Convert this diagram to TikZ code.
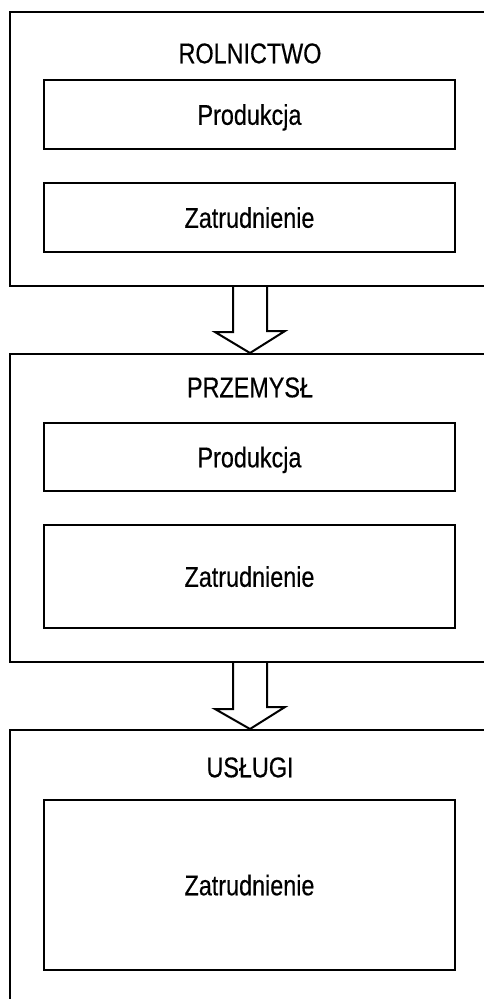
\documentclass[tikz,border=0pt]{standalone}
\usepackage{fontspec}
\setmainfont{Liberation Sans}[FakeStretch=0.82, FakeBold=0.4]
\usetikzlibrary{positioning}
\tikzset{
	sector/.style={draw, line width=2pt, minimum width=480pt, inner sep=0pt},
	item/.style={draw, line width=2pt, minimum width=411pt, inner sep=0pt, text height=20.5pt, text depth=0pt},
	heading/.style={inner sep=0pt, text height=20.5pt, text depth=0pt},
	flow/.style={draw, line width=2pt, fill=white, line join=miter}
}
\begin{document}
\begin{tikzpicture}[x=1pt, y=-1pt, font=\fontsize{28.5}{30}\selectfont]
		\useasboundingbox (0,0) rectangle (484,999);
		
		% sektor I
		\node[sector, minimum height=274pt] (rolnictwo) at (250,149) {};
		\node[heading] (rolnictwoT) at (250,53) {ROLNICTWO};
		\node[item, minimum height=69pt] (rolProd) at (249.5,114.5) {Produkcja};
		\node[item, minimum height=69pt] (rolZatr) at (249.5,217.5) {Zatrudnienie};
		
		% sektor II
		\node[sector, minimum height=308pt] (przemysl) at (250,508) {};
		\node[heading] (przemyslT) at (250,387) {PRZEMYSŁ};
		\node[item, minimum height=68pt] (przProd) at (249.5,457) {Produkcja};
		\node[item, minimum height=103pt] (przZatr) at (249.5,576.5) {Zatrudnienie};
		
		% sektor III
		\node[sector, minimum height=280pt] (uslugi) at (250,870) {};
		\node[heading] (uslugiT) at (250,767) {USŁUGI};
		\node[item, minimum height=170pt] (uslZatr) at (249.5,885) {Zatrudnienie};
		
		% strzalki
		\draw[flow] ([xshift=-17pt]rolnictwo.south) -- ++(0,45) -- ++(-18,0) -- (przemysl.north) -- ++(35,-22) -- ++(-18,0) -- ([xshift=17pt]rolnictwo.south);
		\draw[flow] ([xshift=-17pt]przemysl.south) -- ++(0,46) -- ++(-18,0) -- (uslugi.north) -- ++(35,-22) -- ++(-18,0) -- ([xshift=17pt]przemysl.south);
\end{tikzpicture}
\end{document}
